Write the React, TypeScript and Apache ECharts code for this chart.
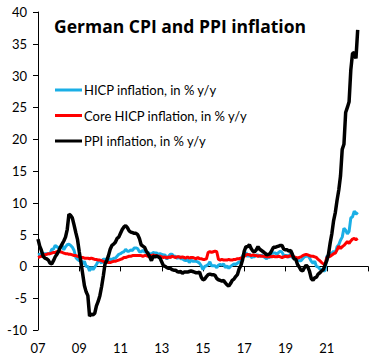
import React, { useEffect, useRef } from "react";
import * as echarts from "echarts";

const START_YEAR = 2007;
const END_OFFSET = 16; // axis runs 2007..2023
const TICK_STEP = 2;

const seriesNames = [
  "HICP inflation, in % y/y",
  "Core HICP inflation, in % y/y",
  "PPI inflation, in % y/y",
];
const seriesColors = ["#1AAFE6", "#FF0000", "#000000"];

// Monthly, Jan 2007 .. Jul 2022
const hicp = [
  1.8, 1.9, 2.0, 2.0, 2.0, 2.0, 2.0, 2.0, 2.7, 2.7, 3.3, 3.1,
  2.9, 3.0, 3.3, 2.6, 3.1, 3.4, 3.5, 3.3, 3.0, 2.5, 1.4, 1.1,
  0.9, 1.0, 0.4, 0.8, 0.0, 0.0, -0.7, -0.1, -0.5, -0.1, 0.3, 0.8,
  0.8, 0.5, 1.2, 1.0, 1.2, 0.8, 1.2, 1.0, 1.3, 1.3, 1.6, 1.9,
  2.0, 2.2, 2.3, 2.7, 2.4, 2.4, 2.6, 2.5, 2.9, 2.9, 2.8, 2.3,
  2.3, 2.5, 2.3, 2.2, 2.2, 2.0, 1.9, 2.2, 2.1, 2.1, 1.9, 2.0,
  1.9, 1.8, 1.8, 1.1, 1.6, 1.9, 1.9, 1.6, 1.6, 1.2, 1.6, 1.2,
  1.2, 1.0, 0.9, 1.1, 0.6, 1.0, 0.8, 0.8, 0.8, 0.7, 0.5, 0.1,
  -0.5, 0.0, 0.1, 0.3, 0.7, 0.1, 0.1, 0.1, -0.2, 0.2, 0.3, 0.2,
  0.4, -0.2, 0.1, -0.3, 0.0, 0.2, 0.4, 0.3, 0.5, 0.7, 0.7, 1.7,
  1.9, 2.2, 1.5, 2.0, 1.4, 1.5, 1.5, 1.8, 1.8, 1.5, 1.8, 1.6,
  1.4, 1.2, 1.5, 1.4, 2.2, 2.1, 2.1, 1.9, 2.2, 2.4, 2.2, 1.7,
  1.7, 1.7, 1.4, 2.1, 1.3, 1.5, 1.1, 1.0, 0.9, 0.9, 1.2, 1.5,
  1.6, 1.7, 1.3, 0.8, 0.5, 0.8, 0.0, -0.1, -0.4, -0.5, -0.7, -0.7,
  1.6, 1.6, 2.0, 2.1, 2.4, 2.1, 3.1, 3.4, 4.1, 4.6, 6.0, 5.7,
  5.1, 5.5, 7.6, 7.8, 8.7, 8.2, 8.5,
];

const core = [
  1.4, 1.5, 1.6, 1.9, 1.8, 1.9, 2.0, 2.0, 2.1, 2.2, 2.2, 2.3,
  2.4, 2.3, 2.2, 2.1, 2.0, 2.0, 1.9, 1.9, 1.8, 1.7, 1.7, 1.6,
  1.5, 1.4, 1.4, 1.3, 1.3, 1.3, 1.2, 1.3, 1.2, 1.1, 1.1, 1.0,
  1.0, 0.9, 0.8, 0.7, 0.7, 0.6, 0.6, 0.7, 0.8, 0.8, 0.9, 1.0,
  1.1, 1.2, 1.4, 1.4, 1.5, 1.6, 1.6, 1.7, 1.7, 1.7, 1.7, 1.7,
  1.7, 1.6, 1.7, 1.7, 1.6, 1.7, 1.7, 1.8, 1.7, 1.7, 1.6, 1.6,
  1.5, 1.4, 1.5, 1.3, 1.5, 1.4, 1.6, 1.5, 1.4, 1.5, 1.5, 1.4,
  1.5, 1.4, 1.3, 1.5, 1.3, 1.4, 1.4, 1.3, 1.2, 1.4, 1.2, 1.2,
  1.1, 1.1, 1.2, 2.2, 2.3, 2.2, 2.3, 2.4, 2.3, 1.1, 1.0, 1.1,
  1.0, 1.0, 1.0, 1.1, 1.0, 1.0, 1.1, 1.1, 1.2, 1.2, 1.3, 1.4,
  1.6, 1.8, 1.9, 1.8, 1.7, 1.8, 1.7, 1.7, 1.6, 1.7, 1.6, 1.6,
  1.6, 1.5, 1.5, 1.6, 1.5, 1.6, 1.5, 1.5, 1.6, 1.5, 1.4, 1.5,
  1.6, 1.5, 1.6, 1.7, 1.6, 1.5, 1.4, 1.3, 1.4, 1.5, 1.7, 1.8,
  1.9, 1.8, 1.7, 1.6, 1.6, 1.5, 1.4, 1.1, 0.9, 0.6, 0.4, 0.3,
  1.4, 1.5, 1.6, 1.8, 2.0, 2.1, 2.6, 3.2, 2.8, 3.1, 3.3, 3.6,
  3.9, 3.6, 4.0, 4.3, 4.4, 4.2, 4.4,
];

const ppi = [
  4.3, 3.2, 2.5, 1.6, 1.3, 1.2, 1.0, 0.5, 0.4, 0.9, 1.5, 1.9,
  2.4, 3.0, 3.5, 4.0, 4.6, 5.8, 8.2, 8.0, 7.6, 6.5, 5.3, 4.2,
  2.3, 0.6, -1.2, -3.0, -4.0, -4.6, -7.8, -7.5, -7.6, -7.4, -6.2, -5.5,
  -4.6, -3.2, -1.5, 0.4, 0.9, 1.7, 2.7, 3.3, 3.5, 3.8, 4.4, 4.6,
  5.2, 5.8, 6.2, 6.4, 6.1, 5.6, 5.4, 5.3, 5.2, 5.2, 5.0, 4.4,
  3.4, 3.2, 3.0, 2.4, 2.0, 1.5, 0.9, 1.6, 1.5, 1.6, 1.5, 1.3,
  0.7, 0.1, 0.0, -0.2, -0.3, -0.3, -0.5, -0.6, -0.6, -0.8, -0.9, -0.8,
  -1.1, -0.9, -0.9, -0.9, -0.8, -0.7, -0.8, -0.9, -1.0, -1.0, -0.9, -1.7,
  -2.1, -2.0, -1.6, -1.3, -1.2, -1.3, -1.3, -1.4, -1.9, -2.1, -2.2, -2.3,
  -2.2, -2.6, -2.9, -3.1, -2.7, -2.2, -2.0, -1.6, -1.3, -0.4, 0.1, 1.0,
  2.4, 3.1, 3.1, 3.4, 2.8, 2.4, 2.3, 2.6, 3.1, 2.7, 2.5, 2.3,
  2.1, 1.8, 1.9, 2.0, 2.5, 3.0, 3.0, 3.1, 3.2, 3.3, 3.3, 2.7,
  2.6, 2.6, 2.4, 2.5, 1.9, 1.2, 1.1, 0.3, -0.1, -0.6, -0.7, -0.2,
  0.2, -0.1, -0.8, -1.9, -2.2, -1.8, -1.7, -1.2, -1.0, -0.7, -0.5, 0.2,
  0.9, 1.9, 3.7, 5.2, 7.2, 8.5, 10.4, 12.0, 14.2, 18.4, 19.2, 24.2,
  25.0, 25.9, 30.9, 33.5, 33.6, 32.7, 37.2,
];

const yTicks = { min: -10, max: 40, step: 5 };
const xTickLabels = ["07", "09", "11", "13", "15", "17", "19", "21"];

const FONT = "Lato, 'Liberation Sans', sans-serif";
const TITLE_FONT = "'Open Sans', Lato, sans-serif";

function toPoints(vals: number[]) {
  return vals.map((v, i) => [i / 12, v]);
}

export default function App() {
  const ref = useRef<HTMLDivElement>(null);

  useEffect(() => {
    if (!ref.current) return;
    const chart = echarts.init(ref.current, null, { renderer: "svg" });
    const allSeries = [hicp, core, ppi];
    chart.setOption({
      animation: false,
      backgroundColor: "#ffffff",
      title: {
        text: "German CPI and PPI inflation",
        left: 54,
        top: 17,
        padding: 0,
        textStyle: {
          fontFamily: TITLE_FONT,
          fontSize: 17.5,
          fontWeight: "bold",
          color: "#000",
        },
      },
      legend: {
        orient: "vertical",
        left: 55,
        top: 82,
        padding: 0,
        itemGap: 9.5,
        itemWidth: 27,
        itemHeight: 3,
        icon: "rect",
        textStyle: {
          fontFamily: FONT,
          fontSize: 13,
          color: "#000",
          lineHeight: 16,
          padding: [0, 0, 0, -3],
        },
        data: seriesNames,
      },
      grid: { left: 38, right: 14, top: 12, bottom: 30, containLabel: false },
      xAxis: [
        {
          type: "value",
          min: 0,
          max: END_OFFSET,
          interval: TICK_STEP,
          axisLine: { onZero: true, lineStyle: { color: "#000", width: 1 } },
          axisTick: { show: true, inside: false, length: 5, lineStyle: { color: "#000" } },
          axisLabel: { show: false },
          splitLine: { show: false },
        },
        {
          type: "value",
          position: "bottom",
          min: 0,
          max: END_OFFSET,
          interval: TICK_STEP,
          axisLine: { show: false, onZero: false },
          axisTick: { show: false },
          splitLine: { show: false },
          axisLabel: {
            show: true,
            margin: 11,
            fontFamily: FONT,
            fontSize: 13,
            color: "#000",
            showMaxLabel: false,
            formatter: (v: number) => xTickLabels[Math.round(v / TICK_STEP)] ?? "",
          },
        },
      ],
      yAxis: {
        type: "value",
        min: yTicks.min,
        max: yTicks.max,
        interval: yTicks.step,
        axisLine: { show: true, lineStyle: { color: "#000", width: 1 } },
        axisTick: { show: true, length: 5, lineStyle: { color: "#000" } },
        axisLabel: { margin: 11, fontFamily: FONT, fontSize: 13, color: "#000" },
        splitLine: { show: false },
      },
      series: allSeries.map((vals, k) => ({
        name: seriesNames[k],
        type: "line",
        xAxisIndex: 0,
        showSymbol: false,
        symbol: "none",
        color: seriesColors[k],
        lineStyle: { width: k === 2 ? 3.5 : 3, color: seriesColors[k] },
        data: toPoints(vals),
        z: 2 + k,
      })),
    });
    return () => chart.dispose();
  }, []);

  return (
    <div
      ref={ref}
      style={{ position: "fixed", left: 0, top: 0, width: 382, height: 360 }}
    />
  );
}
